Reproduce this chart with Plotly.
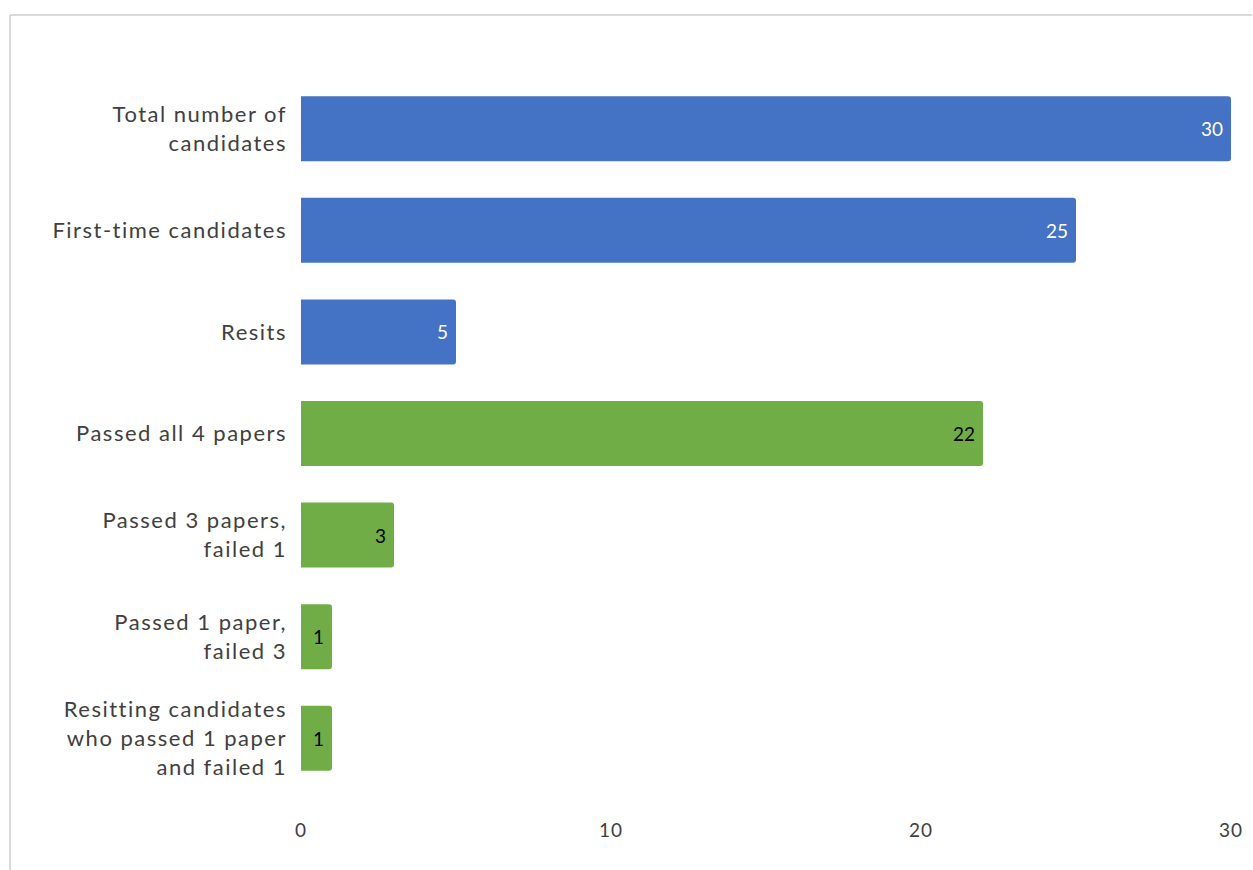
import plotly.graph_objects as go

categories = [
    "Total number of<br>candidates",
    "First-time candidates",
    "Resits",
    "Passed all 4 papers",
    "Passed 3 papers,<br>failed 1",
    "Passed 1 paper,<br>failed 3",
    "Resitting candidates<br>who passed 1 paper<br>and failed 1",
]
values = [30, 25, 5, 22, 3, 1, 1]
bar_colors = ["#4472C4", "#4472C4", "#4472C4", "#70AD47", "#70AD47", "#70AD47", "#70AD47"]
text_colors = ["white", "white", "white", "black", "black", "black", "black"]
x_ticks = [0, 10, 20, 30]

FONT = "Lato, Open Sans, sans-serif"

fig = go.Figure(
    go.Bar(
        y=categories,
        x=values,
        orientation="h",
        marker=dict(color=bar_colors, line=dict(width=0), cornerradius=3),
        width=0.64,
        text=[str(v) + "\u00a0" for v in values],
        textposition="inside",
        insidetextanchor="end",
        textangle=0,
        textfont=dict(family=FONT, size=19, color=text_colors),
        hoverinfo="skip",
    )
)

L, R, T, B = 301, 22, 78, 81
W, H = 1253, 870
pw = W - L - R
ph = H - T - B

fig.update_layout(
    width=W,
    height=H,
    margin=dict(l=L, r=R, t=T, b=B),
    plot_bgcolor="white",
    paper_bgcolor="white",
    showlegend=False,
    font=dict(family=FONT, size=22, color="#404040"),
    uniformtext=dict(minsize=8, mode="show"),
    shapes=[
        dict(type="line", xref="paper", yref="paper",
             x0=(10 - L) / pw, x1=(1252 - L) / pw,
             y0=1 + (T - 15) / ph, y1=1 + (T - 15) / ph,
             line=dict(color="#D9D9D9", width=2)),
        dict(type="line", xref="paper", yref="paper",
             x0=(10 - L) / pw, x1=(10 - L) / pw,
             y0=1 + (T - 15) / ph, y1=-B / ph,
             line=dict(color="#D9D9D9", width=2)),
    ],
)
fig.update_xaxes(
    range=[0, 30],
    tickvals=x_ticks,
    showgrid=False,
    zeroline=False,
    showline=False,
    ticks="",
    ticklabelstandoff=28,
    tickfont=dict(family=FONT, size=19, color="#404040"),
    fixedrange=True,
)
fig.update_yaxes(
    autorange="reversed",
    showgrid=False,
    showline=False,
    ticks="",
    ticklabelstandoff=13,
    tickfont=dict(family=FONT, size=22, color="#404040"),
    fixedrange=True,
)

post = (
    "document.body.style.margin='0';"
    "document.body.style.overflow='hidden';"
    "var s=document.createElement('style');"
    "s.textContent='.ytick text{letter-spacing:1.5px}.xtick text{letter-spacing:1px}';"
    "document.head.appendChild(s);"
)

fig.write_html(
    "out.html",
    config={"displayModeBar": False, "staticPlot": True},
    post_script=post,
)
